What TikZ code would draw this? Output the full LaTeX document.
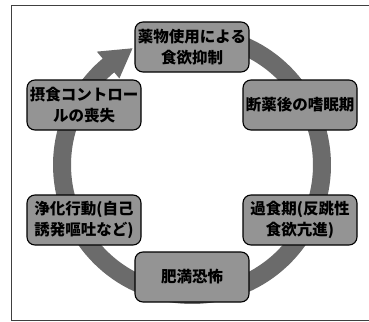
\documentclass[tikz,border=0pt]{standalone}
\usepackage{fontspec}
\newfontfamily\jp{Noto Sans CJK JP}
\tikzset{
  stage/.style={draw=black, line width=1.1pt, fill=black!42, rounded corners=8pt,
    minimum width=114pt, minimum height=50pt, inner sep=0pt, align=center,
    font=\jp\bfseries\fontsize{15.5}{21}\selectfont, text=black},
  ring/.style={draw=black!58, line width=18pt},
  ringhead/.style={fill=black!58, draw=none},
  frame/.style={draw=black!75, line width=0.9pt}
}
\begin{document}
\begin{tikzpicture}[x=1pt,y=-1pt]
\useasboundingbox (0,0) rectangle (369,321);
\draw[frame] (372,5) -- (11,5) -- (11,320) -- (372,320);
% cycle ring
\coordinate (c) at (192,165);
\draw[ring] plot[domain=-70:231, samples=120] ({192+130*cos(\x)},{165+130*sin(\x)});
\fill[ringhead] ({192+113*cos(230)},{165+113*sin(230)}) -- ({192+131*cos(243)},{165+131*sin(243)}) -- ({192+148*cos(230)},{165+148*sin(230)}) -- cycle;
% stages
\node[stage] (top) at (192,47) {薬物使用による\\食欲抑制};
\node[stage] (rt) at (300,105) {断薬後の嗜眠期};
\node[stage] (rb) at (300,220) {過食期(反跳性\\食欲亢進)};
\node[stage] (bot) at (192,277) {肥満恐怖};
\node[stage] (lb) at (84,220) {浄化行動(自己\\誘発嘔吐など)};
\node[stage] (lt) at (84,105) {摂食コントロー\\ルの喪失};
\end{tikzpicture}
\end{document}
